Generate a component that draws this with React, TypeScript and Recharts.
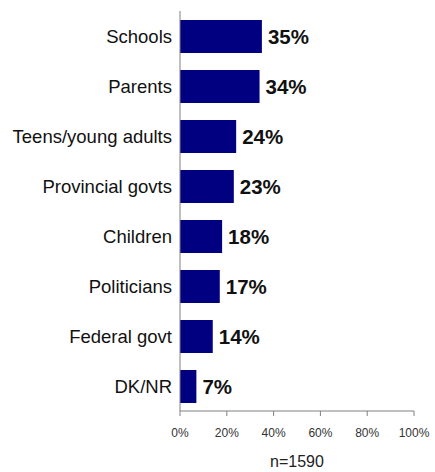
import { Bar, BarChart, XAxis, YAxis, LabelList, Label } from "recharts"

const categories = [
    "Schools",
    "Parents",
    "Teens/young adults",
    "Provincial govts",
    "Children",
    "Politicians",
    "Federal govt",
    "DK/NR",
]

const shares = [35, 34, 24, 23, 18, 17, 14, 7]

const xTicks = [0, 20, 40, 60, 80, 100]

const sampleNote = "n=1590"

const data = categories.map((name, i) => ({ name, value: shares[i] }))

export default function App() {
    return (
        <div style={{ position: "absolute", left: 0, top: 0, fontFamily: "Arial, 'Liberation Sans', sans-serif" }}>
            <BarChart
                width={435}
                height={472}
                data={data}
                layout="vertical"
                margin={{ top: 11, right: 21, bottom: 0, left: 0 }}
                barCategoryGap={0}
            >
                <XAxis
                    type="number"
                    domain={[0, 100]}
                    ticks={xTicks}
                    tickFormatter={(v) => `${v}%`}
                    stroke="#808080"
                    tick={{ fill: "#333333", fontSize: 12 }}
                    tickSize={5}
                    tickMargin={12}
                    height={61}
                    interval={0}
                >
                    <Label
                        value={sampleNote}
                        position="insideBottom"
                        offset={5}
                        style={{ fill: "#222222", fontSize: 16 }}
                    />
                </XAxis>
                <YAxis
                    type="category"
                    dataKey="name"
                    width={180}
                    stroke="#808080"
                    tickLine={false}
                    tickSize={0}
                    tickMargin={8}
                    tick={{ fill: "#111111", fontSize: 18.5 }}
                    interval={0}
                />
                <Bar dataKey="value" fill="#000080" barSize={33} isAnimationActive={false}>
                    <LabelList
                        dataKey="value"
                        position="right"
                        offset={6}
                        formatter={(v: number) => `${v}%`}
                        style={{ fill: "#111111", fontSize: 20.5, fontWeight: "bold" }}
                    />
                </Bar>
            </BarChart>
        </div>
    )
}
